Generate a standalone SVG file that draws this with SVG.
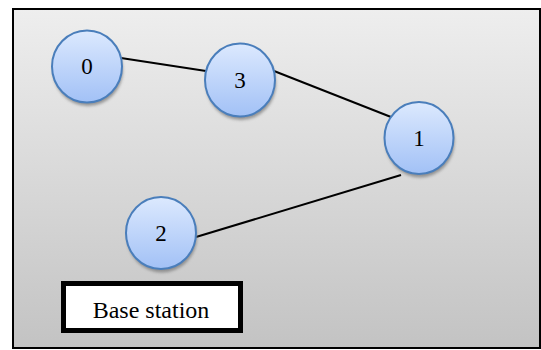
<svg xmlns="http://www.w3.org/2000/svg" width="541" height="350" viewBox="0 0 541 350">
<defs>
<linearGradient id="bg" x1="0" y1="0" x2="0" y2="1">
<stop offset="0" stop-color="#eeeeee"/>
<stop offset="1" stop-color="#c3c3c3"/>
</linearGradient>
<linearGradient id="nf" x1="0" y1="0" x2="0" y2="1">
<stop offset="0" stop-color="#dce9fe"/>
<stop offset="1" stop-color="#a2c1f6"/>
</linearGradient>
<filter id="sh" x="-30%" y="-30%" width="160%" height="170%">
<feGaussianBlur stdDeviation="1.5"/>
</filter>
<style>
.node ellipse.f{fill:url(#nf);stroke:#4a7ebb;stroke-width:2}
.node ellipse.s{fill:#7a7a7a;opacity:0.75;filter:url(#sh)}
.t{font-family:"Liberation Serif","Times New Roman",serif;font-size:23px;fill:#000;text-anchor:middle}
.conn line{stroke:#000;stroke-width:2}
</style>
</defs>
<rect x="13" y="9" width="527" height="339" fill="url(#bg)" stroke="#000" stroke-width="2"/>
<g id="connectors" class="conn">
<line x1="121" y1="58" x2="206" y2="71"/>
<line x1="274" y1="71" x2="391" y2="117"/>
<line x1="196" y1="237" x2="401" y2="175"/>
</g>
<g id="node0" class="node">
<ellipse class="s" cx="88" cy="70" rx="35" ry="36"/>
<ellipse class="f" cx="87" cy="66.5" rx="35" ry="36"/>
<text class="t" x="87" y="74">0</text>
</g>
<g id="node3" class="node">
<ellipse class="s" cx="241" cy="83.5" rx="35" ry="36.5"/>
<ellipse class="f" cx="240" cy="80" rx="35" ry="36.5"/>
<text class="t" x="240" y="88">3</text>
</g>
<g id="node1" class="node">
<ellipse class="s" cx="420" cy="141.5" rx="34.5" ry="36"/>
<ellipse class="f" cx="419" cy="138" rx="34.5" ry="36"/>
<text class="t" x="419" y="146">1</text>
</g>
<g id="node2" class="node">
<ellipse class="s" cx="162" cy="236.5" rx="35" ry="36"/>
<ellipse class="f" cx="161" cy="233" rx="35" ry="36"/>
<text class="t" x="161" y="241">2</text>
</g>
<g id="base">
<rect x="63.5" y="283.5" width="177" height="47" fill="#fff" stroke="#000" stroke-width="5"/>
<text class="t" x="151" y="318" style="font-size:24px">Base station</text>
</g>
</svg>
